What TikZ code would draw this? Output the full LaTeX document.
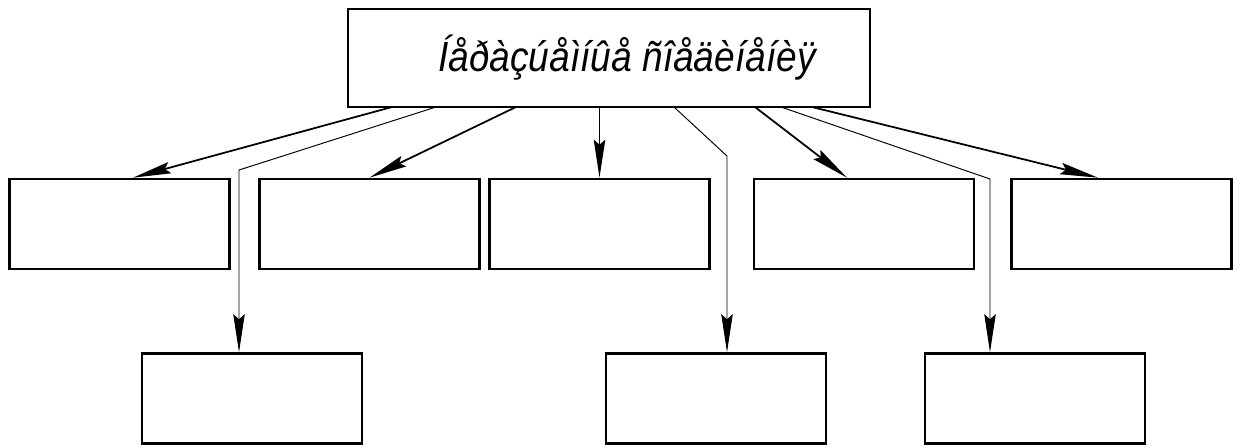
\documentclass[tikz,border=0pt]{standalone}
\usepackage{fontspec}
\setmainfont{Liberation Sans}
\newfontfamily\headfont[FakeStretch=0.88]{Liberation Sans}
\usetikzlibrary{arrows.meta}

\begin{document}
\begin{tikzpicture}[x=0.02cm, y=-0.02cm,
    >={Stealth[length=0.76cm, width=0.23cm, inset=0.1cm]},
    head_block/.style={
        draw, line width=1.5pt, fill=white,
        minimum width=10.44cm, minimum height=1.96cm, inner sep=0pt,
        font=\headfont\itshape\fontsize{24}{28}\selectfont
    },
    sub_block/.style={
        draw, line width=1.5pt, fill=white,
        minimum width=4.4cm, minimum height=1.8cm, inner sep=0pt
    },
    signal/.style={->, line width=1pt},
    branch/.style={->, line width=0.55pt},
]
\useasboundingbox (0,0) rectangle (1242,447);

% --- Bloque superior ---
\node[head_block] (Top) at (609,58) {\hspace*{0.72cm}Íåðàçúåìíûå ñîåäèíåíèÿ};

% --- Primera fila ---
\node[sub_block] (B1) at (119.5,224) {};
\node[sub_block] (B2) at (369.5,224) {};
\node[sub_block] (B3) at (599.5,224) {};
\node[sub_block] (B4) at (864,224) {};
\node[sub_block] (B5) at (1121.5,224) {};

% --- Segunda fila ---
\node[sub_block] (C1) at (252,398.5) {};
\node[sub_block] (C2) at (716,398.5) {};
\node[sub_block] (C3) at (1035,398.5) {};

% --- Salidas en el borde inferior ---
\coordinate (s1) at (392,107);
\coordinate (s2) at (436,107);
\coordinate (s3) at (516,107);
\coordinate (s5) at (674,107);
\coordinate (s6) at (755,107);
\coordinate (s7) at (781,107);
\coordinate (s8) at (812,107);

% --- Quiebres ---
\coordinate (k2) at (239,170);
\coordinate (k5) at (727,156);
\coordinate (k7) at (990,179);

% --- Flechas ---
\draw[signal] (s1) -- ([xshift=0.27cm]B1.north);
\draw[branch] (s2) -- (k2) -- (k2 |- C1.north);
\draw[signal] (s3) -- (B2.north);
\draw[signal] (B3.north |- Top.south) -- (B3.north);
\draw[branch] (s5) -- (k5) -- (k5 |- C2.north);
\draw[signal] (s6) -- ([xshift=-0.34cm]B4.north);
\draw[branch] (s7) -- (k7) -- (k7 |- C3.north);
\draw[signal] (s8) -- ([xshift=-0.47cm]B5.north);

\end{tikzpicture}
\end{document}
